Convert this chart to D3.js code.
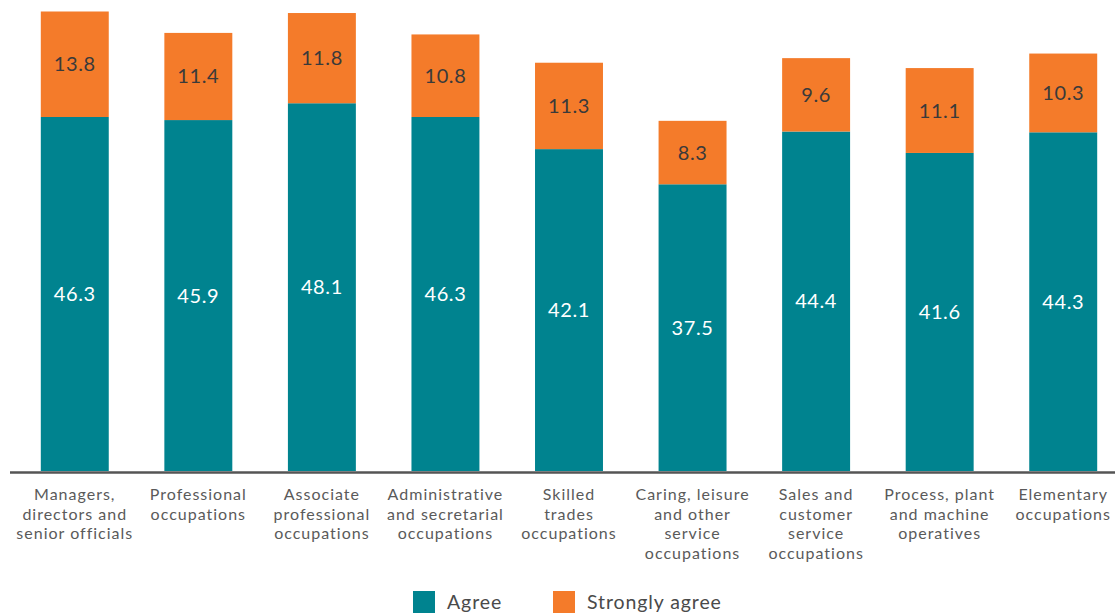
<!DOCTYPE html>
<html><head><meta charset="utf-8">
<script src="https://cdn.jsdelivr.net/npm/d3@7"></script>
<style>body{margin:0;background:#fff;} svg{display:block;font-family:Lato,"Open Sans",sans-serif;}</style>
</head><body>
<svg id="c" width="1115" height="615"></svg>
<script>
const categories = [
  ["Managers,","directors and","senior officials"],
  ["Professional","occupations"],
  ["Associate","professional","occupations"],
  ["Administrative","and secretarial","occupations"],
  ["Skilled","trades","occupations"],
  ["Caring, leisure","and other","service","occupations"],
  ["Sales and","customer","service","occupations"],
  ["Process, plant","and machine","operatives"],
  ["Elementary","occupations"]
];
const agree = [46.3, 45.9, 48.1, 46.3, 42.1, 37.5, 44.4, 41.6, 44.3];
const stronglyAgree = [13.8, 11.4, 11.8, 10.8, 11.3, 8.3, 9.6, 11.1, 10.3];
const seriesNames = ["Agree", "Strongly agree"];
const colors = ["#00838f", "#f47b2a"];

const svg = d3.select("#c");
const baseY = 471;
const x = d3.scaleBand().domain(d3.range(categories.length)).range([13, 1125]).paddingInner(0.45).paddingOuter(0.225);
const y = d3.scaleLinear().domain([0, 60.1]).range([baseY, 11.5]);

const g = svg.append("g");
categories.forEach((c, i) => {
  const a = agree[i], s = stronglyAgree[i];
  const cx = x(i) + x.bandwidth()/2;
  g.append("rect").attr("x", x(i)).attr("width", x.bandwidth())
    .attr("y", y(a)).attr("height", y(0) - y(a)).attr("fill", colors[0]);
  g.append("rect").attr("x", x(i)).attr("width", x.bandwidth())
    .attr("y", y(a + s)).attr("height", y(a) - y(a + s)).attr("fill", colors[1]);
  g.append("text").attr("x", cx).attr("y", (y(0) + y(a))/2)
    .attr("dy", "0.35em").attr("text-anchor", "middle").attr("fill", "#fff")
    .attr("font-size", 20).attr("letter-spacing", 0.6).text(a.toFixed(1));
  g.append("text").attr("x", cx).attr("y", (y(a) + y(a + s))/2)
    .attr("dy", "0.35em").attr("text-anchor", "middle").attr("fill", "#3a3a3a")
    .attr("font-size", 20).attr("letter-spacing", 0.6).text(s.toFixed(1));
  c.forEach((line, j) => {
    g.append("text").attr("text-anchor", "middle").attr("fill", "#5a5a5a")
      .attr("font-size", 16).attr("letter-spacing", 1.0)
      .attr("x", cx).attr("y", 500 + j * 19.5).text(line);
  });
});

svg.append("line").attr("x1", 10).attr("x2", 1115).attr("y1", baseY + 1.5).attr("y2", baseY + 1.5)
  .attr("stroke", "#555").attr("stroke-width", 2.5);

const legX = [413, 553];
seriesNames.forEach((n, i) => {
  svg.append("rect").attr("x", legX[i]).attr("y", 591).attr("width", 22).attr("height", 22).attr("fill", colors[i]);
  svg.append("text").attr("x", legX[i] + 34).attr("y", 602).attr("dy", "0.35em")
    .attr("fill", "#4a4a4a").attr("font-size", 19.5).attr("letter-spacing", 0.9).text(n);
});
</script>
</body></html>
